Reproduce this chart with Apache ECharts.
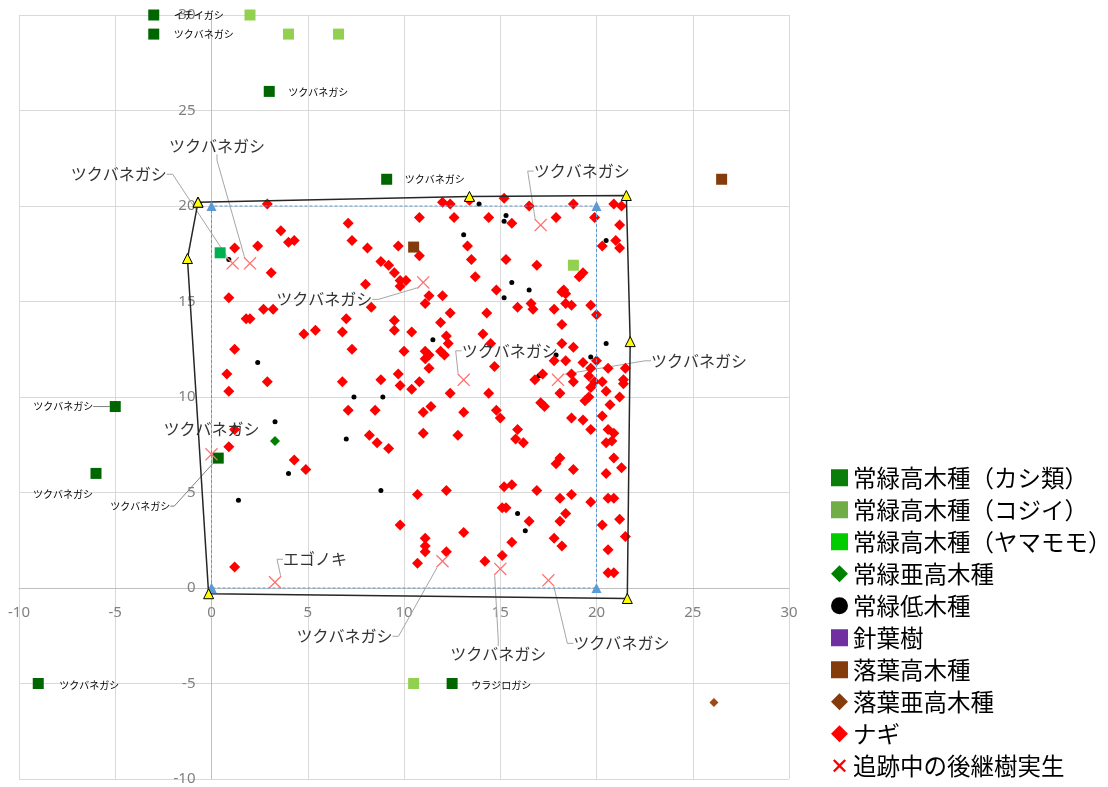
<!DOCTYPE html>
<html>
<head>
<meta charset="utf-8">
<script src="https://cdn.jsdelivr.net/npm/echarts@6/dist/echarts.min.js"></script>
<style>
  html, body { margin: 0; padding: 0; background: #ffffff; }
  #chart { width: 1108px; height: 787px; }
</style>
</head>
<body>
<div id="chart"></div>
<script>
// ---- data -------------------------------------------------------------
const axisMin = -10;
const axisMax = 30;
const axisStep = 5;

const seriesNames = [
  '常緑高木種（カシ類）', '常緑高木種（コジイ）', '常緑高木種（ヤマモモ）',
  '常緑亜高木種', '常緑低木種', '針葉樹', '落葉高木種', '落葉亜高木種',
  'ナギ', '追跡中の後継樹実生'
];

// evergreen tall trees (oaks), each with its species name
const kashiPoints = [[-3, 30], [-3, 29], [3, 26], [9.1, 21.4], [-5, 9.5], [-6, 6], [0.35, 6.8], [-9, -5], [12.5, -5]];
const kashiNames = ['イチイガシ', 'ツクバネガシ', 'ツクバネガシ', 'ツクバネガシ', 'ツクバネガシ', 'ツクバネガシ', 'ツクバネガシ', 'ツクバネガシ', 'ウラジロガシ'];

const kojiiPoints = [[2, 30], [4, 29], [6.6, 29], [18.8, 16.9], [10.5, -5]];
const yamamomoPoints = [[0.45, 17.55]];
const subTallEvergreenPoints = [[3.3, 7.7]];
const shrubPoints = [
  [0.9, 17.2], [2.4, 11.8], [7.4, 10.0], [8.9, 10.0], [3.3, 8.7], [7.0, 7.8], [4.0, 6.0], [8.8, 5.1],
  [1.4, 4.6], [13.9, 20.1], [15.3, 19.5], [15.2, 19.2], [13.1, 18.5], [20.5, 18.2], [15.6, 16.0],
  [16.5, 15.6], [15.2, 15.2], [11.5, 13.0], [20.5, 12.8], [19.7, 12.1], [17.9, 12.2], [17.0, 11.1],
  [15.9, 3.9], [16.3, 3.0]
];
const coniferPoints = [];
const deciduousTallPoints = [[10.5, 17.85], [26.5, 21.4]];
const deciduousSubPoints = [[26.1, -6.0]];

const nagiPoints = [
  [2.9, 20.1], [1.2, 17.8], [2.4, 17.9], [3.6, 18.7], [4.0, 18.1], [4.3, 18.2], [7.1, 19.1], [7.3, 18.2],
  [8.1, 17.8], [9.7, 17.9], [8.8, 17.1], [9.2, 16.9], [9.5, 16.5], [9.8, 16.1], [8.0, 15.9], [3.1, 16.5],
  [0.9, 15.2], [2.7, 14.6], [3.2, 14.6], [1.8, 14.1], [2.0, 14.1], [8.3, 14.7], [7.0, 14.1], [9.5, 14.0],
  [4.8, 13.3], [5.4, 13.5], [6.8, 13.4], [9.5, 13.5], [1.2, 12.5], [7.3, 12.5], [10.0, 12.4], [0.8, 11.2],
  [2.9, 10.8], [6.8, 10.8], [8.8, 10.9], [9.7, 11.2], [0.9, 10.3], [7.1, 9.3], [8.5, 9.3], [1.2, 8.3],
  [0.9, 7.4], [8.2, 8.0], [8.6, 7.6], [9.2, 7.3], [4.3, 6.7], [4.9, 6.2], [1.2, 1.1], [9.8, 3.3],
  [12.0, 20.2], [12.4, 20.1], [13.4, 20.3], [15.2, 20.4], [16.5, 20.0], [18.8, 20.1], [20.9, 20.1], [21.3, 20.0],
  [10.8, 19.4], [12.6, 19.4], [14.4, 19.4], [15.6, 19.1], [17.9, 19.4], [19.9, 19.4], [21.2, 19.0], [21.0, 18.2],
  [21.2, 17.8], [20.3, 17.9], [10.8, 17.4], [13.3, 17.9], [13.5, 17.2], [15.3, 17.2], [16.9, 16.9], [10.1, 16.1],
  [9.8, 15.8], [13.7, 16.3], [19.3, 16.5], [19.1, 16.3], [14.8, 15.6], [18.3, 15.6], [18.4, 15.4], [18.2, 15.5],
  [11.3, 15.3], [12.0, 15.3], [11.1, 14.9], [18.4, 14.9], [18.7, 14.8], [15.9, 14.7], [16.6, 14.9], [16.7, 14.6],
  [17.8, 14.6], [19.7, 14.8], [20.0, 14.3], [14.3, 14.4], [12.4, 14.4], [11.9, 13.9], [10.4, 13.4], [18.2, 13.8],
  [14.1, 13.3], [12.2, 13.2], [12.3, 12.8], [14.5, 12.8], [18.8, 12.6], [18.2, 12.8], [11.1, 12.4], [11.3, 12.2],
  [11.9, 12.4], [12.1, 12.2], [11.1, 12.0], [11.3, 11.5], [14.7, 11.6], [17.8, 11.9], [18.4, 11.9], [19.3, 11.8],
  [20.0, 11.9], [19.7, 11.5], [18.7, 11.2], [19.6, 11.1], [20.6, 11.5], [21.5, 11.5], [17.2, 11.2], [16.8, 10.9],
  [18.8, 10.8], [19.9, 10.8], [20.3, 10.8], [21.4, 10.9], [21.4, 10.7], [19.7, 10.5], [20.5, 10.3], [18.1, 10.2],
  [21.2, 10.0], [19.6, 10.0], [19.4, 9.8], [17.1, 9.7], [20.7, 9.6], [20.3, 9.0], [18.7, 8.9], [19.3, 8.8],
  [9.8, 10.6], [10.4, 10.4], [10.8, 10.8], [12.4, 10.2], [14.4, 10.2], [11.4, 9.5], [11.0, 9.2], [13.1, 9.2],
  [14.8, 9.3], [15.0, 8.9], [17.3, 9.5], [19.7, 8.3], [11.0, 8.1], [12.8, 8.0], [15.9, 8.3], [15.8, 7.8],
  [16.2, 7.6], [20.6, 8.3], [20.9, 8.1], [20.5, 7.6], [20.8, 7.7], [18.1, 6.8], [17.9, 6.5], [18.8, 6.2],
  [20.5, 6.0], [20.9, 6.8], [21.3, 6.3], [10.7, 4.9], [12.2, 5.1], [15.2, 5.3], [15.6, 5.4], [16.9, 5.1],
  [18.1, 4.7], [18.7, 4.9], [19.7, 4.5], [20.6, 4.7], [20.9, 4.7], [15.1, 4.2], [15.3, 4.2], [13.1, 2.9],
  [16.5, 3.5], [18.4, 3.9], [18.1, 3.5], [11.1, 2.6], [11.1, 2.2], [11.1, 1.9], [12.2, 1.9], [15.6, 2.4],
  [17.8, 2.6], [18.2, 2.2], [20.3, 3.3], [21.2, 3.6], [21.5, 2.7], [20.6, 2.0], [10.7, 1.3], [14.2, 1.4],
  [15.1, 1.7], [20.6, 0.8], [20.9, 0.8]
];

// tracked successor seedlings, each with its species name
const seedlingPoints = [[1.1, 17.0], [2.0, 17.0], [11.0, 16.0], [17.1, 19.0], [13.1, 10.9], [18.0, 10.9], [0, 7.0], [3.3, 0.3], [12.0, 1.4], [15.0, 1.0], [17.5, 0.4]];
const seedlingNames = ['ツクバネガシ', 'ツクバネガシ', 'ツクバネガシ', 'ツクバネガシ', 'ツクバネガシ', 'ツクバネガシ', 'ツクバネガシ', 'エゴノキ', 'ツクバネガシ', 'ツクバネガシ', 'ツクバネガシ'];

// surveyed plot outline and the nominal 20 m square
const outlinePoints = [[-0.7, 20.2], [13.4, 20.5], [21.55, 20.55], [21.75, 12.9], [21.6, -0.55], [-0.15, -0.3], [-1.25, 17.25], [-0.7, 20.2]];
const squarePoints = [[0, 0], [0, 20], [20, 20], [20, 0], [0, 0]];

// ---- layout -----------------------------------------------------------
const CHART_W = 1108, CHART_H = 787;
const GRID = { left: 19, right: 319, top: 15, bottom: 8 };
const plotW = CHART_W - GRID.left - GRID.right;
const plotH = CHART_H - GRID.top - GRID.bottom;
// both axes cross at the origin: shift each axis from the grid edge to value 0
const zeroShiftX = (0 - axisMin) / (axisMax - axisMin) * plotW;
const zeroShiftY = (0 - axisMin) / (axisMax - axisMin) * plotH;

// label placement (pixel offsets from each marker's centre)
const kashiLabelOffsets = [[45, 0], [50, 0], [49, 1], [48, 0], [-52, 0], [-33, 21], [-78, 48], [51, 2], [49, 2]];
const kashiLabelLines = [false, false, false, false, true, false, true, false, false];
const seedlingLabelOffsets = [[-114, -89], [-33, -117], [-99, 17], [41, -54], [46, -29], [141, -19], [0, -25], [40, -23], [-98, 75], [-2, 85], [73, 63]];
const seedlingLabelLines = [true, true, true, true, true, true, false, true, true, true, true];

// ---- styles -----------------------------------------------------------
const JP = '"Noto Sans CJK JP", "Noto Sans", sans-serif';
// thin cross for the plot markers
const CROSS = 'path://M0,1.4L1.4,0L10,8.6L18.6,0L20,1.4L11.4,10L20,18.6L18.6,20L10,11.4L1.4,20L0,18.6L8.6,10Z';
// bolder cross for the legend, with empty corner sub-paths so it sits smaller in its box
const LEGEND_CROSS = 'path://M-3,-3L-3,-3ZM23,23L23,23ZM0,2.5L2.5,0L10,7.5L17.5,0L20,2.5L12.5,10L20,17.5L17.5,20L10,12.5L2.5,20L0,17.5L7.5,10Z';
const legendIcons = ['rect', 'rect', 'rect', 'diamond', 'circle', 'rect', 'rect', 'diamond', 'diamond', LEGEND_CROSS];
const legendColors = ['#0b7d0b', '#70ad47', '#00cc00', '#008000', '#000000', '#7030a0', '#843c0c', '#843c0c', '#ff0000', '#ff0000'];

function offsetLayout(offsets) {
  return function (p) {
    const o = offsets[p.dataIndex] || [0, 0];
    return {
      x: p.rect.x + p.rect.width / 2 + o[0],
      y: p.rect.y + p.rect.height / 2 + o[1],
      align: 'center',
      verticalAlign: 'middle'
    };
  };
}

function plain(name, points, symbol, size, color) {
  return {
    name: name, type: 'scatter', symbol: symbol, symbolSize: size,
    itemStyle: { color: color, opacity: 1 },
    data: points.slice()
  };
}

const kashiData = kashiPoints.map((p, i) => ({
  value: p, name: kashiNames[i],
  labelLine: { show: kashiLabelLines[i] }
}));
const seedlingData = seedlingPoints.map((p, i) => ({
  value: p, name: seedlingNames[i],
  labelLine: { show: seedlingLabelLines[i] }
}));

const axisLabelStyle = { color: '#808080', fontSize: 15, fontFamily: '"Noto Sans", sans-serif', showMinLabel: true, showMaxLabel: true };

const chart = echarts.init(document.getElementById('chart'), null, { renderer: 'canvas' });

chart.setOption({
  animation: false,
  backgroundColor: '#ffffff',
  grid: {
    left: GRID.left, right: GRID.right, top: GRID.top, bottom: GRID.bottom,
    containLabel: false, outerBoundsMode: 'none'
  },
  xAxis: {
    type: 'value', min: axisMin, max: axisMax, interval: axisStep,
    position: 'bottom', offset: -zeroShiftY,
    axisLine: { show: true, onZero: false, lineStyle: { color: '#bfbfbf', width: 1 } },
    axisTick: { show: false },
    axisLabel: Object.assign({ margin: 17 }, axisLabelStyle),
    splitLine: { show: true, lineStyle: { color: '#d9d9d9', width: 1 } }
  },
  yAxis: {
    type: 'value', min: axisMin, max: axisMax, interval: axisStep,
    position: 'left', offset: -zeroShiftX,
    axisLine: { show: true, onZero: false, lineStyle: { color: '#bfbfbf', width: 1 } },
    axisTick: { show: false },
    axisLabel: Object.assign({ margin: 16 }, axisLabelStyle),
    splitLine: { show: true, lineStyle: { color: '#d9d9d9', width: 1 } }
  },
  legend: {
    orient: 'vertical', left: 831, top: 466, padding: 0,
    itemWidth: 17, itemHeight: 17, itemGap: 8.5,
    textStyle: { fontSize: 23.5, color: '#000000', fontFamily: JP },
    data: seriesNames.map((n, i) => ({ name: n, icon: legendIcons[i], itemStyle: { color: legendColors[i] } }))
  },
  series: [
    {
      name: 'square', type: 'line', data: squarePoints, silent: true,
      symbol: 'triangle', symbolSize: 10, showAllSymbol: true,
      itemStyle: { color: '#5b9bd5' },
      lineStyle: { color: '#5b9bd5', width: 1, type: [3, 2] }
    },
    {
      name: 'outline', type: 'line', data: outlinePoints, silent: true,
      symbol: 'triangle', symbolSize: 10, showAllSymbol: true,
      itemStyle: { color: '#ffff00', borderColor: '#000000', borderWidth: 1 },
      lineStyle: { color: '#262626', width: 1.5 }
    },
    {
      name: seriesNames[0], type: 'scatter', symbol: 'rect', symbolSize: 11,
      itemStyle: { color: '#006600', opacity: 1 },
      label: { show: true, position: 'inside', formatter: '{b}', fontSize: 10, color: '#000000', fontFamily: JP },
      labelLine: { show: false, length2: 4, lineStyle: { color: '#7f7f7f', width: 1 } },
      labelLayout: offsetLayout(kashiLabelOffsets),
      data: kashiData
    },
    plain(seriesNames[1], kojiiPoints, 'rect', 11, '#92d050'),
    plain(seriesNames[2], yamamomoPoints, 'rect', 11, '#00b050'),
    plain(seriesNames[3], subTallEvergreenPoints, 'diamond', 10, '#008000'),
    plain(seriesNames[4], shrubPoints, 'circle', 5, '#000000'),
    plain(seriesNames[5], coniferPoints, 'rect', 11, '#7030a0'),
    plain(seriesNames[6], deciduousTallPoints, 'rect', 11, '#843c0c'),
    plain(seriesNames[7], deciduousSubPoints, 'diamond', 9, '#a0480f'),
    plain(seriesNames[8], nagiPoints, 'diamond', 11, '#ff0000'),
    {
      name: seriesNames[9], type: 'scatter', symbol: CROSS, symbolSize: 13,
      itemStyle: { color: '#ff7070', opacity: 1 },
      label: { show: true, position: 'inside', formatter: '{b}', fontSize: 16, color: '#333333', fontFamily: JP },
      labelLine: { show: false, length2: 6, lineStyle: { color: '#a6a6a6', width: 1 } },
      labelLayout: offsetLayout(seedlingLabelOffsets),
      data: seedlingData
    }
  ]
});
</script>
</body>
</html>
